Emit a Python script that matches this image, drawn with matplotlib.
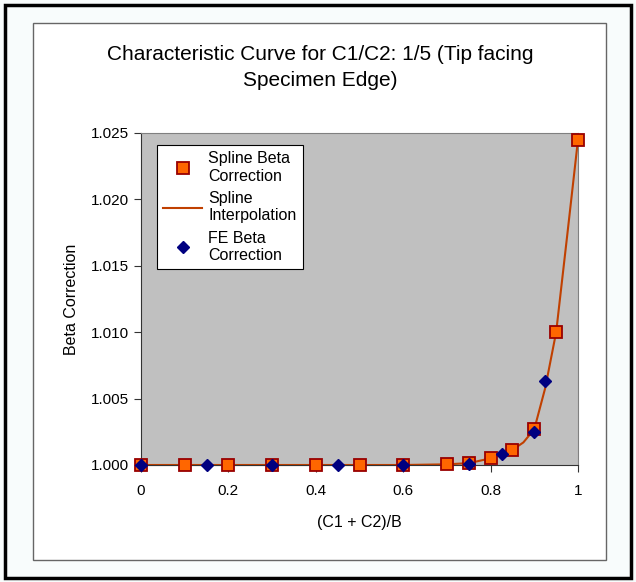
import matplotlib.pyplot as plt
from matplotlib.patches import Rectangle

plt.rcParams['font.family'] = ['Liberation Sans', 'DejaVu Sans']

# Spline beta correction points (squares)
spline_x = [0, 0.1, 0.2, 0.3, 0.4, 0.5, 0.6, 0.7, 0.75, 0.8, 0.85, 0.9, 0.95, 1.0]
spline_y = [1.0, 1.0, 1.0, 1.0, 1.0, 1.0, 1.0, 1.00005, 1.00014, 1.0005, 1.00114,
            1.0027, 1.010, 1.0245]

# Spline interpolation curve
curve_x = [0, 0.6, 0.7, 0.75, 0.8, 0.825, 0.85, 0.875, 0.9, 0.925, 0.95, 0.975, 1.0]
curve_y = [1.0, 1.0, 1.00005, 1.00014, 1.0005, 1.0008, 1.00114, 1.0017, 1.0027,
           1.0058, 1.010, 1.0172, 1.0245]

# FE beta correction points (diamonds)
fe_x = [0, 0.15, 0.3, 0.45, 0.6, 0.75, 0.825, 0.9, 0.925]
fe_y = [1.0, 1.0, 1.0, 1.0, 1.00002, 1.0001, 1.0008, 1.0025, 1.0063]

x_ticks = [0, 0.2, 0.4, 0.6, 0.8, 1.0]
x_labels = ['0', '0.2', '0.4', '0.6', '0.8', '1']
y_ticks = [1.000, 1.005, 1.010, 1.015, 1.020, 1.025]

fig = plt.figure(figsize=(6.36, 5.82), dpi=100)
fig.patch.set_facecolor('#f8fcfc')

# outer black border and inner chart frame
fig.add_artist(Rectangle((5 / 636, 4 / 582), 626 / 636, 573 / 582, transform=fig.transFigure,
                         fill=False, edgecolor='black', linewidth=2.5))
fig.add_artist(Rectangle((33 / 636, 22 / 582), 573 / 636, 537 / 582, transform=fig.transFigure,
                         facecolor='white', edgecolor='#666666', linewidth=1, zorder=0))

ax = fig.add_axes([141 / 636, 1 - 465 / 582, 437 / 636, 332 / 582])
ax.set_facecolor('#c0c0c0')

ax.plot(spline_x, spline_y, 's', color='#ff6600', markeredgecolor='#990000',
        markersize=8, markeredgewidth=1.3, label='Spline Beta\nCorrection', zorder=3, clip_on=False)
ax.plot(curve_x, curve_y, '-', color='#c04000', linewidth=1.5,
        label='Spline\nInterpolation', zorder=2, clip_on=False)
ax.plot(fe_x, fe_y, 'D', color='#000080', markersize=6.5, label='FE Beta\nCorrection',
        zorder=4, clip_on=False)

ax.set_xlim(0, 1)
ax.set_ylim(1.0, 1.025)
ax.set_xticks(x_ticks)
ax.set_xticklabels(x_labels)
ax.set_yticks(y_ticks)
ax.set_yticklabels(['%.3f' % v for v in y_ticks])
ax.tick_params(direction='out', length=5, labelsize=11, color='#333333', pad=4)
ax.tick_params(axis='x', pad=9)

for s in ['top', 'right']:
    ax.spines[s].set_color('#808080')
ax.spines['left'].set_color('#333333')
ax.spines['bottom'].set_color('#333333')

ax.set_xlabel('(C1 + C2)/B', fontsize=11.5, labelpad=12)
ax.set_ylabel('Beta Correction', fontsize=11.5, labelpad=8)

fig.text(320 / 636, 1 - 54 / 582, 'Characteristic Curve for C1/C2: 1/5 (Tip facing',
         ha='center', va='center', fontsize=15)
fig.text(320 / 636, 1 - 81 / 582, 'Specimen Edge)', ha='center', va='center', fontsize=15)

leg = ax.legend(loc='upper left', bbox_to_anchor=(157 / 636, 1 - 145 / 582),
                bbox_transform=fig.transFigure, borderaxespad=0, fancybox=False,
                framealpha=1, edgecolor='black', fontsize=11.5, handlelength=2.4,
                labelspacing=0.45, borderpad=0.4, handletextpad=0.4)
leg.get_frame().set_linewidth(0.8)
for t in leg.get_texts():
    t.set_linespacing(1.2)

plt.savefig('out.png', dpi=100, facecolor=fig.get_facecolor())
